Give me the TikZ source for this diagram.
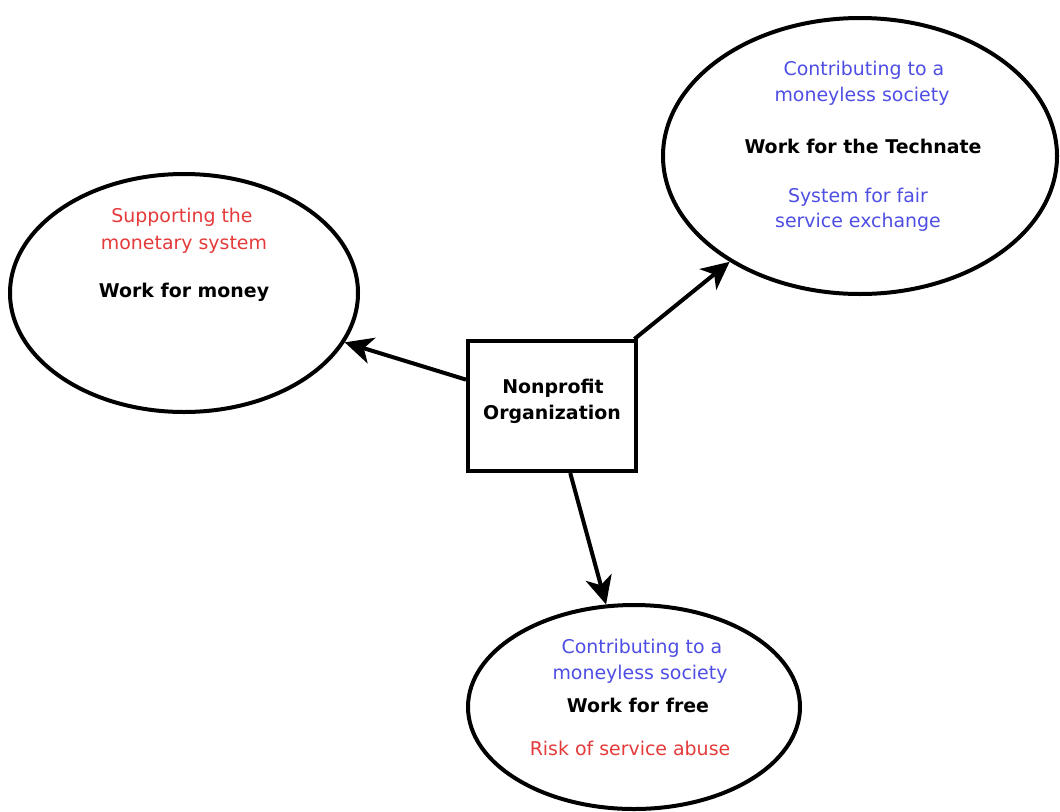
\documentclass[tikz,border=0pt]{standalone}
\usepackage{fontspec}
\setmainfont{DejaVu Sans}
\usetikzlibrary{arrows.meta,shapes.geometric}
\definecolor{warn}{RGB}{228,58,58}
\definecolor{hope}{RGB}{78,78,228}
\begin{document}
\begin{tikzpicture}[x=0.75pt,y=-0.75pt,
  bubble/.style={draw=black, line width=3pt, ellipse, inner sep=0pt},
  box/.style={draw=black, line width=3pt, rectangle, inner sep=0pt,
    minimum width=126pt, minimum height=97.5pt},
  link/.style={line width=3pt, -{Stealth[length=21pt,width=20pt,inset=6pt]}},
  txt/.style={anchor=base, inner sep=0pt, font=\fontsize{14.2pt}{19pt}\selectfont},
  head/.style={txt, font=\fontsize{14.2pt}{19pt}\selectfont\bfseries},
]
\useasboundingbox (0,0) rectangle (1060,811);

% central organisation box
\node[box] (org) at (552,406) {};
\node[head] (orgA) at (553,393) {Nonprofit};
\node[head] (orgB) at (552,419) {Organization};

% work for money
\node[bubble, minimum width=261pt, minimum height=178.5pt] (money) at (184,293) {};
\node[txt, text=warn] (moneyA) at (182,222) {Supporting the};
\node[txt, text=warn] (moneyB) at (184,249) {monetary system};
\node[head] (moneyC) at (184,297) {Work for money};

% work for the Technate
\node[bubble, minimum width=295.5pt, minimum height=207pt] (tech) at (860,156) {};
\node[txt, text=hope] (techA) at (864,75) {Contributing to a};
\node[txt, text=hope] (techB) at (862,101) {moneyless society};
\node[head] (techC) at (863,153) {Work for the Technate};
\node[txt, text=hope] (techD) at (858,202) {System for fair};
\node[txt, text=hope] (techE) at (858,227) {service exchange};

% work for free
\node[bubble, minimum width=249pt, minimum height=153pt] (free) at (634,707) {};
\node[txt, text=hope] (freeA) at (642,653) {Contributing to a};
\node[txt, text=hope] (freeB) at (640,679) {moneyless society};
\node[head] (freeC) at (638,712) {Work for free};
\node[txt, text=warn] (freeD) at (630,755) {Risk of service abuse};

% connectors
\draw[link] (org) -- (money);
\draw[link] (org) -- (tech);
\draw[link] (org) -- (free);
\end{tikzpicture}
\end{document}
